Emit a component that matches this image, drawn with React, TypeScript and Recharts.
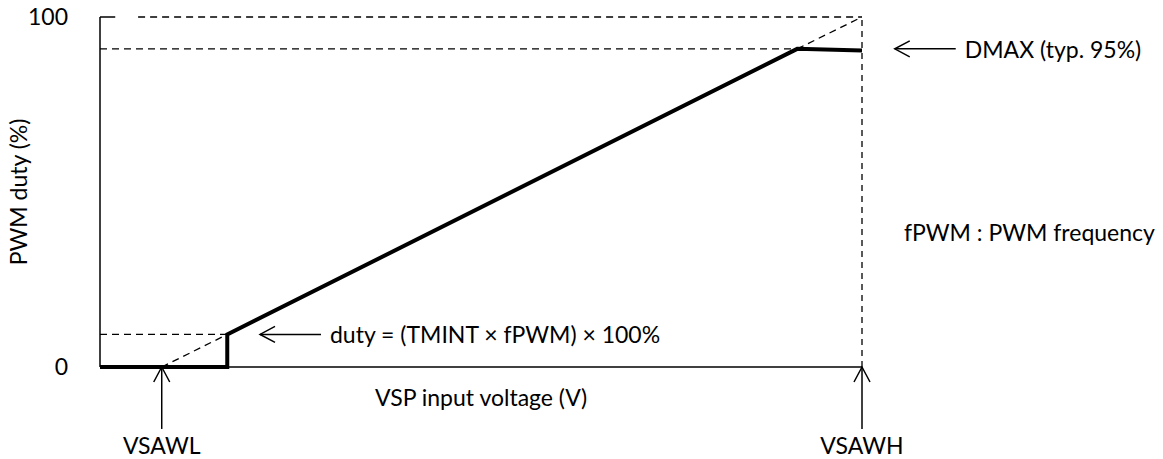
import { ComposedChart, Line, XAxis, YAxis, ReferenceLine, Label } from "recharts";

const FONT = "Lato, 'Open Sans', sans-serif";
const FONT_SIZE = 23;

// x: VSP input voltage, 0..100 = 0..VSAWH ; y: PWM duty (%)
const outputVolt = [0, 16.7, 16.7, 91.5, 100];
const outputDuty = [0, 0, 9.3, 90.9, 90.4];
const idealLowVolt = [8.1, 16.7];
const idealLowDuty = [0, 9.3];
const idealHighVolt = [91.5, 100];
const idealHighDuty = [90.9, 100];
const dutyTicks = [0, 100];

const VSAWL = 8.1;
const VSAWH = 100;
const STEP = 16.7;
const KNEE = 91.5;
const TMIN_DUTY = 9.3;
const DMAX = 90.9;

// annotation anchors (data units)
const ARROW_TAIL_Y = -17.7;
const DMAX_ARROW = [112.3, 104.3];
const DUTY_ARROW = [29.0, 21.0];
const FREQ_NOTE = { x: 105.5, y: 38.6 };

const toRows = (xs: number[], ys: number[]) => xs.map((x, i) => ({ x, duty: ys[i] }));

const outputRows = toRows(outputVolt, outputDuty);
const idealLowRows = toRows(idealLowVolt, idealLowDuty);
const idealHighRows = toRows(idealHighVolt, idealHighDuty);

const textStyle = { fontFamily: FONT, fontSize: FONT_SIZE, fill: "#000" };
const DASH = "7 5";
const DASH_W = 1.3;

// line from tail (x1,y1) to head (x2,y2), open arrow head, optional text at the tail
function arrow(text?: string, place: "below" | "right" = "right") {
  return (p: any) => {
    const { x1, y1, x2, y2 } = p;
    const a = Math.atan2(y2 - y1, x2 - x1);
    const len = 15;
    const half = 8;
    const bx = x2 - len * Math.cos(a);
    const by = y2 - len * Math.sin(a);
    const nx = -Math.sin(a) * half;
    const ny = Math.cos(a) * half;
    return (
      <g>
        <line x1={x1} y1={y1} x2={x2} y2={y2} stroke="#000" strokeWidth={1.5} />
        <polyline
          points={`${bx + nx},${by + ny} ${x2},${y2} ${bx - nx},${by - ny}`}
          fill="none"
          stroke="#000"
          strokeWidth={1.5}
        />
        {text && place === "below" && (
          <text x={x1} y={y1 + 16} textAnchor="middle" dominantBaseline="central" style={textStyle}>
            {text}
          </text>
        )}
        {text && place === "right" && (
          <text x={x1 + 9} y={y1} textAnchor="start" dominantBaseline="central" style={textStyle}>
            {text}
          </text>
        )}
      </g>
    );
  };
}

const noteShape = (text: string) => (p: any) => (
  <text x={p.x1} y={p.y1} textAnchor="start" dominantBaseline="central" style={textStyle}>
    {text}
  </text>
);

export default function App() {
  return (
    <div style={{ position: "absolute", left: 0, top: 0 }}>
      <ComposedChart
        width={1163}
        height={459}
        margin={{ top: 17, right: 301, bottom: 0, left: 0 }}
        style={{ fontFamily: FONT }}
      >
        <XAxis
          dataKey="x"
          type="number"
          domain={[0, 100]}
          allowDataOverflow
          tick={false}
          tickLine={false}
          height={92}
          axisLine={{ stroke: "#000", strokeWidth: 1.5 }}
        >
          <Label
            content={(props: any) => {
              const vb = props.viewBox;
              return (
                <text x={vb.x + vb.width / 2} y={vb.y + 30} textAnchor="middle" dominantBaseline="central" style={textStyle}>
                  VSP input voltage (V)
                </text>
              );
            }}
          />
        </XAxis>
        <YAxis
          type="number"
          domain={[0, 100]}
          ticks={dutyTicks}
          width={100}
          tickLine={false}
          tickMargin={26}
          tick={{ fill: "#000", fontSize: FONT_SIZE, fontFamily: FONT }}
          axisLine={{ stroke: "#000", strokeWidth: 1.5 }}
        >
          <Label
            content={(props: any) => {
              const vb = props.viewBox;
              const cy = vb.y + vb.height / 2;
              return (
                <text
                  x={18}
                  y={cy}
                  transform={`rotate(-90, 18, ${cy})`}
                  textAnchor="middle"
                  dominantBaseline="central"
                  style={textStyle}
                >
                  PWM duty (%)
                </text>
              );
            }}
          />
        </YAxis>

        {/* guides */}
        <ReferenceLine segment={[{ x: 0, y: 100 }, { x: 2, y: 100 }]} stroke="#000" strokeWidth={1.5} ifOverflow="visible" />
        <ReferenceLine segment={[{ x: 5, y: 100 }, { x: VSAWH, y: 100 }]} stroke="#000" strokeWidth={DASH_W} strokeDasharray={DASH} ifOverflow="visible" />
        <ReferenceLine segment={[{ x: VSAWH, y: 0 }, { x: VSAWH, y: 100 }]} stroke="#000" strokeWidth={DASH_W} strokeDasharray="6 5" ifOverflow="visible" />
        <ReferenceLine segment={[{ x: 0, y: DMAX }, { x: KNEE, y: DMAX }]} stroke="#000" strokeWidth={DASH_W} strokeDasharray={DASH} ifOverflow="visible" />
        <ReferenceLine segment={[{ x: 0, y: TMIN_DUTY }, { x: STEP, y: TMIN_DUTY }]} stroke="#000" strokeWidth={DASH_W} strokeDasharray={DASH} ifOverflow="visible" />

        <Line data={idealLowRows} dataKey="duty" type="linear" stroke="#000" strokeWidth={DASH_W} strokeDasharray={DASH} dot={false} isAnimationActive={false} />
        <Line data={idealHighRows} dataKey="duty" type="linear" stroke="#000" strokeWidth={DASH_W} strokeDasharray={DASH} dot={false} isAnimationActive={false} />
        <Line
          data={outputRows}
          dataKey="duty"
          type="linear"
          stroke="#000"
          strokeWidth={4}
          strokeLinejoin="miter"
          dot={false}
          isAnimationActive={false}
        />

        {/* annotations */}
        <ReferenceLine
          segment={[{ x: VSAWL, y: ARROW_TAIL_Y }, { x: VSAWL, y: 0 }]}
          ifOverflow="visible"
          shape={arrow("VSAWL", "below")}
        />
        <ReferenceLine
          segment={[{ x: VSAWH, y: ARROW_TAIL_Y }, { x: VSAWH, y: 0 }]}
          ifOverflow="visible"
          shape={arrow("VSAWH", "below")}
        />
        <ReferenceLine
          segment={[{ x: DMAX_ARROW[0], y: DMAX }, { x: DMAX_ARROW[1], y: DMAX }]}
          ifOverflow="visible"
          shape={arrow("DMAX (typ. 95%)")}
        />
        <ReferenceLine
          segment={[{ x: DUTY_ARROW[0], y: TMIN_DUTY }, { x: DUTY_ARROW[1], y: TMIN_DUTY }]}
          ifOverflow="visible"
          shape={arrow("duty = (TMINT \u00d7 fPWM) \u00d7 100%")}
        />
        <ReferenceLine
          segment={[FREQ_NOTE, FREQ_NOTE]}
          ifOverflow="visible"
          shape={noteShape("fPWM : PWM frequency")}
        />
      </ComposedChart>
    </div>
  );
}
